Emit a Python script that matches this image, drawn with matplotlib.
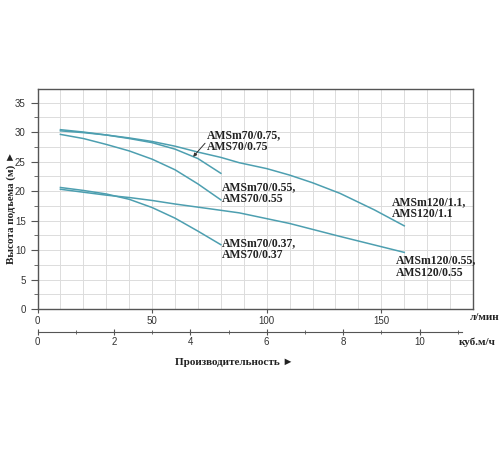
import matplotlib
matplotlib.use('Agg')
import matplotlib.pyplot as plt
from matplotlib.ticker import MultipleLocator

# flow, l/min and head, m for each pump curve
q_70_075 = [10, 20, 30, 40, 50, 60, 70, 80]
h_70_075 = [30.4, 30.0, 29.5, 28.9, 28.2, 27.1, 25.5, 23.0]

q_120_11 = [10, 20, 30, 40, 50, 60, 70, 80, 88, 100, 110, 120, 132, 147, 160]
h_120_11 = [30.2, 29.9, 29.5, 29.0, 28.4, 27.6, 26.6, 25.7, 24.8, 23.8, 22.7, 21.4, 19.6, 16.8, 14.1]

q_70_055 = [10, 20, 30, 40, 50, 60, 70, 80]
h_70_055 = [29.6, 28.9, 27.9, 26.8, 25.4, 23.6, 21.2, 18.5]

q_70_037 = [10, 20, 30, 40, 50, 60, 70, 80]
h_70_037 = [20.6, 20.1, 19.5, 18.6, 17.2, 15.4, 13.2, 10.9]

q_120_055 = [10, 20, 30, 40, 50, 60, 75, 88, 110, 132, 160]
h_120_055 = [20.3, 19.8, 19.3, 18.9, 18.4, 17.8, 17.0, 16.3, 14.5, 12.3, 9.6]

curve_color = '#4d9fb0'
serif = ['Liberation Serif', 'DejaVu Sans']

fig = plt.figure(figsize=(5, 4.5), dpi=100)
ax = fig.add_axes([0.075, 0.3133, 0.871, 0.489])

for q, h in [(q_70_075, h_70_075), (q_120_11, h_120_11), (q_70_055, h_70_055),
             (q_70_037, h_70_037), (q_120_055, h_120_055)]:
    ax.plot(q, h, color=curve_color, linewidth=1.1)

ax.set_xlim(0, 190)
ax.set_ylim(0, 37.3)
ax.xaxis.set_major_locator(MultipleLocator(50))
ax.xaxis.set_minor_locator(MultipleLocator(10))
ax.yaxis.set_major_locator(MultipleLocator(5))
ax.yaxis.set_minor_locator(MultipleLocator(2.5))
ax.grid(True, which='both', color='#dcdcdc', linewidth=0.7)
ax.set_axisbelow(True)
for s in ax.spines.values():
    s.set_color('#555555')
    s.set_linewidth(1.0)
ax.tick_params(axis='y', which='major', length=5, labelsize=7, labelcolor='#333333', color='#555555')
ax.tick_params(axis='y', which='minor', length=3, color='#555555')
ax.tick_params(axis='x', which='major', length=3, labelsize=7, labelcolor='#333333', color='#555555', pad=2)
ax.tick_params(axis='x', which='minor', length=0)
for lab in ax.get_xticklabels() + ax.get_yticklabels():
    lab.set_family('Liberation Sans')

# second flow scale in m3/h
sec = ax.secondary_xaxis(-0.105, functions=(lambda x: x * 0.06, lambda x: x / 0.06))
sec.xaxis.set_major_locator(MultipleLocator(2))
sec.xaxis.set_minor_locator(MultipleLocator(1))
sec.tick_params(which='major', direction='inout', length=5, labelsize=7, labelcolor='#333333', color='#555555', pad=1)
sec.tick_params(which='minor', direction='inout', length=3, color='#555555')
sec.spines['bottom'].set_color('#555555')
sec.spines['bottom'].set_bounds(0, 11.1)
for lab in sec.get_xticklabels():
    lab.set_family('Liberation Sans')

lbl = dict(fontsize=8.5, fontweight='bold', family=serif, color='#222222',
           va='center', ha='left', linespacing=1.0, clip_on=False)
ax.text(74, 28.5, 'AMSm70/0.75,\nAMS70/0.75', **lbl)
ax.text(80.5, 19.6, 'AMSm70/0.55,\nAMS70/0.55', **lbl)
ax.text(80.5, 10.1, 'AMSm70/0.37,\nAMS70/0.37', **lbl)
ax.text(154.8, 17.1, 'AMSm120/1.1,\nAMS120/1.1', **lbl)
ax.text(156.5, 7.2, 'AMSm120/0.55,\nAMS120/0.55', **lbl)
ax.annotate('', xy=(67.9, 25.8), xytext=(73.1, 28.1),
            arrowprops=dict(arrowstyle='-|>', color='#333333', lw=0.7,
                            mutation_scale=5, shrinkA=0, shrinkB=0))

fig.text(0.022, 0.54, 'Высота подъема (м) ►', rotation=90, ha='center', va='center',
         fontsize=8, fontweight='bold', family=serif, color='#222222')
fig.text(0.35, 0.195, 'Производительность ►', ha='left', va='center',
         fontsize=8, fontweight='bold', family=serif, color='#222222')
fig.text(0.94, 0.295, 'л/мин', ha='left', va='center',
         fontsize=8, fontweight='bold', family=serif, color='#222222')
fig.text(0.918, 0.24, 'куб.м/ч', ha='left', va='center',
         fontsize=8, fontweight='bold', family=serif, color='#222222')

fig.savefig('out.png', dpi=100, facecolor='white')
